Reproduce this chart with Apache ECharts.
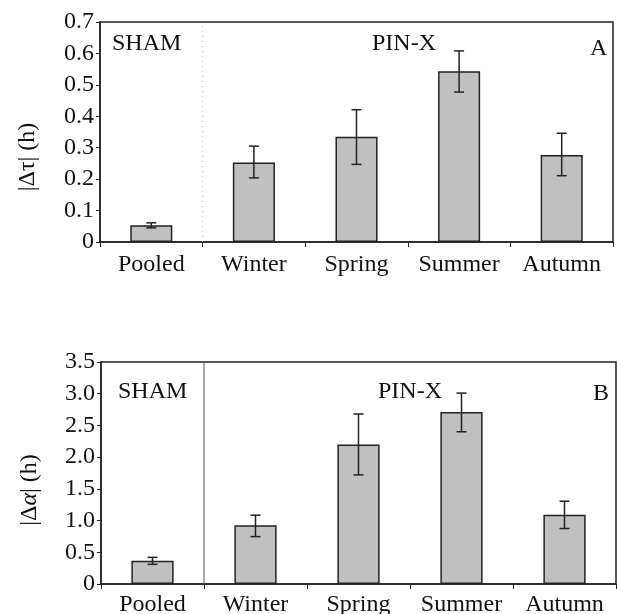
<!DOCTYPE html>
<html>
<head>
<meta charset="utf-8">
<script src="https://cdn.jsdelivr.net/npm/echarts@6/dist/echarts.min.js"></script>
<style>html,body{margin:0;padding:0;background:#fff}#c{width:617px;height:614px}</style>
</head>
<body>
<div id="c"></div>
<script>
var categories = ['Pooled', 'Winter', 'Spring', 'Summer', 'Autumn'];
var tauMean = [0.053, 0.253, 0.335, 0.543, 0.277];
var tauLow  = [0.045, 0.204, 0.247, 0.477, 0.211];
var tauHigh = [0.061, 0.305, 0.421, 0.608, 0.346];
var alphaMean = [0.365, 0.926, 2.20, 2.71, 1.09];
var alphaLow  = [0.31, 0.747, 1.72, 2.40, 0.875];
var alphaHigh = [0.42, 1.085, 2.68, 3.01, 1.305];
var tauTicks = ['0', '0.1', '0.2', '0.3', '0.4', '0.5', '0.6', '0.7'];
var alphaTicks = ['0', '0.5', '1.0', '1.5', '2.0', '2.5', '3.0', '3.5'];

var FONT = '"Liberation Serif", "Times New Roman", serif';
var FS = 24;
var chart = echarts.init(document.getElementById('c'), null, {renderer: 'canvas'});

function errItem(params, api) {
  var x = api.value(0), lo = api.value(1), hi = api.value(2);
  var pLo = api.coord([x, lo]), pHi = api.coord([x, hi]);
  var cap = 5;
  var st = {stroke: '#222', lineWidth: 1.5};
  return {type: 'group', children: [
    {type: 'line', shape: {x1: pLo[0], y1: pLo[1], x2: pHi[0], y2: pHi[1]}, style: st},
    {type: 'line', shape: {x1: pLo[0]-cap, y1: pLo[1], x2: pLo[0]+cap, y2: pLo[1]}, style: st},
    {type: 'line', shape: {x1: pHi[0]-cap, y1: pHi[1], x2: pHi[0]+cap, y2: pHi[1]}, style: st}
  ]};
}

function dividerItem(params, api) {
  var c0 = api.coord([0, 0]);
  var c1 = api.coord([1, 0]);
  var x = (c0[0] + c1[0]) / 2;
  var top = api.coord([0, api.value(1)]);
  var faint = params.seriesIndex === 5;
  return {type: 'line', shape: {x1: x, y1: c0[1], x2: x, y2: top[1]},
    style: {stroke: faint ? '#bbb' : '#555', lineWidth: 1, lineDash: faint ? [1, 4] : null}};
}

function xAxisDef(gi, margin) {
  return {
    type: 'category', gridIndex: gi, data: categories,
    axisLine: {lineStyle: {color: '#222', width: 1.5}},
    axisTick: {show: true, alignWithLabel: false, interval: 0, length: 5, lineStyle: {color: '#222'}},
    axisLabel: {fontFamily: FONT, fontSize: FS, color: '#111', margin: margin, interval: 0, hideOverlap: false},
    splitLine: {show: false}
  };
}
function yAxisDef(gi, max, interval, ticks) {
  return {
    type: 'value', gridIndex: gi, min: 0, max: max, interval: interval,
    axisLine: {show: true, lineStyle: {color: '#222', width: 1.5}},
    axisTick: {show: true, length: 4, lineStyle: {color: '#222'}},
    axisLabel: {fontFamily: FONT, fontSize: FS, color: '#111', margin: 6,
      formatter: function (v) { return ticks[Math.round(v / interval)]; }},
    splitLine: {show: false}
  };
}

var option = {
  backgroundColor: '#fff',
  animation: false,
  grid: [
    {left: 100, top: 22, width: 513, height: 220, show: true, borderColor: '#222', borderWidth: 1.5,
      containLabel: false, outerBoundsMode: 'none'},
    {left: 101, top: 362, width: 515, height: 222, show: true, borderColor: '#222', borderWidth: 1.5,
      containLabel: false, outerBoundsMode: 'none'}
  ],
  xAxis: [xAxisDef(0, 11), xAxisDef(1, 9)],
  yAxis: [yAxisDef(0, 0.7, 0.1, tauTicks), yAxisDef(1, 3.5, 0.5, alphaTicks)],
  series: [
    {type: 'bar', xAxisIndex: 0, yAxisIndex: 0, data: tauMean, barWidth: '41%',
      itemStyle: {color: '#c0c0c0', borderColor: '#222', borderWidth: 1.5}},
    {type: 'custom', xAxisIndex: 0, yAxisIndex: 0, renderItem: errItem,
      data: categories.map(function (c, i) { return [i, tauLow[i], tauHigh[i]]; }), z: 5},
    {type: 'bar', xAxisIndex: 1, yAxisIndex: 1, data: alphaMean, barWidth: '41%',
      itemStyle: {color: '#c0c0c0', borderColor: '#222', borderWidth: 1.5}},
    {type: 'custom', xAxisIndex: 1, yAxisIndex: 1, renderItem: errItem,
      data: categories.map(function (c, i) { return [i, alphaLow[i], alphaHigh[i]]; }), z: 5},
    {type: 'custom', xAxisIndex: 1, yAxisIndex: 1, renderItem: dividerItem, data: [[0, 3.5]], z: 1},
    {type: 'custom', xAxisIndex: 0, yAxisIndex: 0, renderItem: dividerItem, data: [[0, 0.7]], z: 1}
  ],
  graphic: [
    {type: 'text', left: 112, top: 32, style: {text: 'SHAM', font: FS + 'px ' + FONT, fill: '#111'}},
    {type: 'text', left: 372, top: 32, style: {text: 'PIN-X', font: FS + 'px ' + FONT, fill: '#111'}},
    {type: 'text', left: 590, top: 37, style: {text: 'A', font: FS + 'px ' + FONT, fill: '#111'}},
    {type: 'text', left: 118, top: 380, style: {text: 'SHAM', font: FS + 'px ' + FONT, fill: '#111'}},
    {type: 'text', left: 378, top: 380, style: {text: 'PIN-X', font: FS + 'px ' + FONT, fill: '#111'}},
    {type: 'text', left: 593, top: 382, style: {text: 'B', font: FS + 'px ' + FONT, fill: '#111'}},
    {type: 'text', x: 28, y: 157, rotation: Math.PI / 2,
      style: {text: '|Δτ| (h)', font: FS + 'px ' + FONT, fill: '#111', align: 'center', verticalAlign: 'middle'}},
    {type: 'text', x: 30, y: 490, rotation: Math.PI / 2,
      style: {text: '|Δ{i|α}| (h)', font: FS + 'px ' + FONT, fill: '#111', align: 'center', verticalAlign: 'middle',
        rich: {i: {fontStyle: 'italic', fontFamily: FONT, fontSize: FS}}}}
  ]
};
chart.setOption(option);
</script>
</body>
</html>
